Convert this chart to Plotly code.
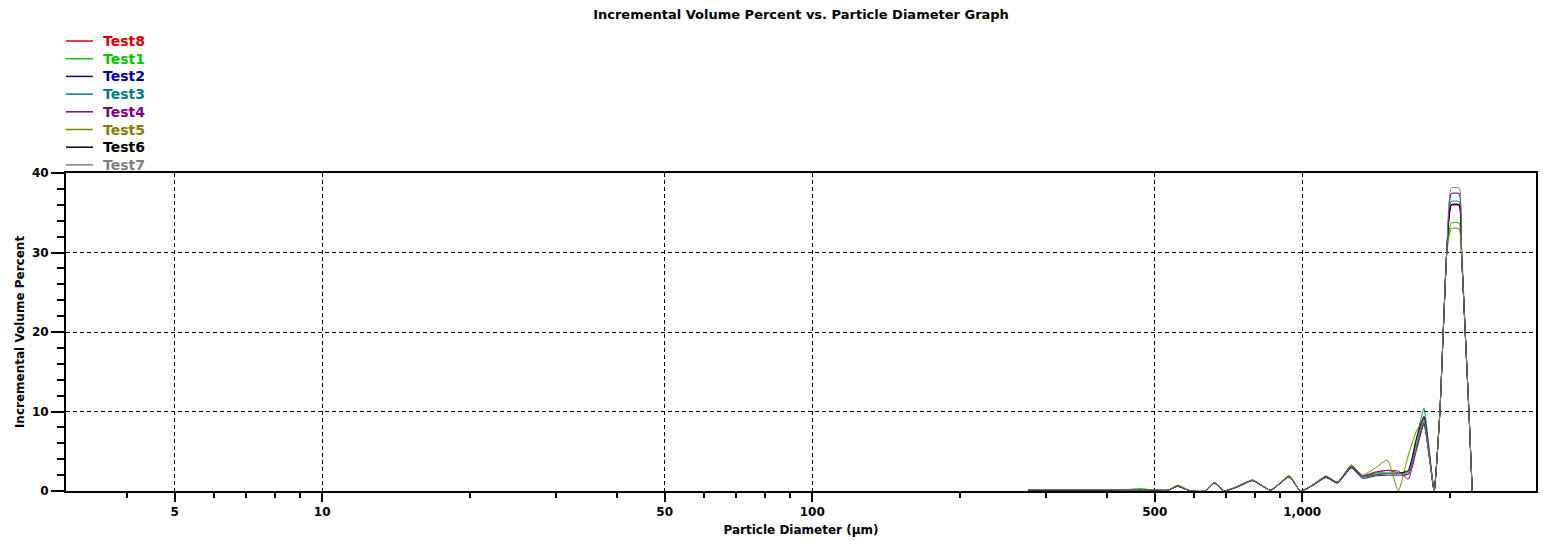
import plotly.graph_objects as go

# Particle diameters (µm) shared by all runs
diameter_um = [276, 303, 340, 383, 430, 469, 500, 532, 557, 592, 635, 662, 693, 738,
               792, 862, 941, 992, 1049, 1118, 1180, 1260, 1327, 1410, 1492, 1571,
               1646, 1709, 1772, 1817, 1859, 1910, 1940, 1972, 2014, 2091, 2114, 2151,
               2189, 2223]

# Incremental volume percent for each run
test8 = [0.1, 0.1, 0.1, 0.1, 0.15, 0.15, 0.1, 0.1, 0.6, 0.0, 0.0, 1.0, 0.0, 0.55, 1.35, 0.1,
         1.8, 0.0, 0.7, 1.7, 1.0, 3.0, 1.9, 2.3, 2.6, 2.3, 2.1, 5.5, 9.2, 4.6, 0.0, 10, 20, 30,
         35.9, 35.9, 30, 20, 10, 0]
test1 = [0.1, 0.1, 0.1, 0.1, 0.15, 0.3, 0.1, 0.1, 0.65, 0.0, 0.0, 1.05, 0.0, 0.55, 1.35, 0.1,
         1.85, 0.0, 0.75, 1.85, 1.1, 3.2, 1.8, 2.3, 2.3, 2.3, 2.5, 6.0, 9.0, 4.5, 0.0, 10, 20, 30,
         33.7, 33.7, 31, 20, 10, 0]
test2 = [0.1, 0.1, 0.1, 0.1, 0.15, 0.15, 0.1, 0.1, 0.6, 0.0, 0.0, 1.0, 0.0, 0.5, 1.3, 0.1,
         1.8, 0.0, 0.65, 1.7, 1.0, 2.9, 1.6, 1.9, 2.0, 2.0, 2.1, 5.3, 8.6, 4.3, 0.0, 10, 20, 30,
         37.4, 37.4, 30, 20, 10, 0]
test3 = [0.1, 0.1, 0.1, 0.1, 0.15, 0.15, 0.1, 0.1, 0.6, 0.0, 0.0, 1.05, 0.0, 0.55, 1.35, 0.1,
         1.85, 0.0, 0.7, 1.8, 1.1, 3.1, 1.8, 2.0, 2.2, 2.2, 2.4, 6.5, 10.4, 5.2, 0.0, 10, 20, 30,
         36.4, 36.4, 30, 20, 10, 0]
test4 = [0.1, 0.1, 0.1, 0.1, 0.15, 0.15, 0.1, 0.1, 0.6, 0.0, 0.0, 1.0, 0.0, 0.55, 1.3, 0.1,
         1.8, 0.0, 0.7, 1.8, 1.1, 3.0, 1.9, 2.4, 2.6, 2.5, 1.5, 5.0, 8.4, 4.2, 0.0, 10, 20, 30,
         36.0, 36.0, 30, 20, 10, 0]
test5 = [0.1, 0.1, 0.1, 0.15, 0.15, 0.15, 0.1, 0.1, 0.75, 0.0, 0.0, 1.1, 0.0, 0.6, 1.4, 0.1,
         1.95, 0.0, 0.75, 1.9, 1.1, 3.3, 2.0, 2.9, 3.9, 0.0, 4.5, 7.5, 9.0, 4.5, 0.0, 10, 20, 30,
         33.0, 33.0, 30, 20, 10, 0]
test6 = [0.1, 0.1, 0.1, 0.1, 0.15, 0.15, 0.1, 0.1, 0.6, 0.0, 0.0, 1.0, 0.0, 0.55, 1.35, 0.1,
         1.8, 0.0, 0.7, 1.8, 1.1, 3.1, 1.8, 2.1, 2.2, 2.2, 2.6, 6.5, 9.4, 4.7, 0.0, 10, 20, 30,
         36.0, 36.0, 30, 20, 10, 0]
test7 = [0.15, 0.15, 0.15, 0.15, 0.15, 0.15, 0.15, 0.1, 0.65, 0.0, 0.0, 1.05, 0.0, 0.55, 1.35,
         0.1, 1.85, 0.0, 0.7, 1.8, 1.1, 3.1, 1.8, 2.1, 2.2, 2.2, 2.2, 5.5, 9.0, 4.5, 0.0, 10, 20,
         30, 38.1, 38.1, 30, 20, 10, 0]

series_names = ["Test8", "Test1", "Test2", "Test3", "Test4", "Test5", "Test6", "Test7"]
series_values = [test8, test1, test2, test3, test4, test5, test6, test7]
series_colors = ["#E00000", "#00C800", "#0000B0", "#008080", "#800080", "#808000",
                 "#000000", "#808080"]

x_major_vals = [5, 10, 50, 100, 500, 1000]
x_major_text = ["5", "10", "50", "100", "500", "1,000"]
x_minor_vals = [4, 6, 7, 8, 9, 20, 30, 40, 60, 70, 80, 90, 200, 300, 400, 600, 700, 800,
                900, 2000]
y_major_vals = [0, 10, 20, 30, 40]

FONT = "DejaVu Sans"
W, H = 1543, 541
ML, MR, MT, MB = 66, 5, 173, 50
PW, PH = W - ML - MR, H - MT - MB

fig = go.Figure()
for name, vals, col in zip(series_names, series_values, series_colors):
    fig.add_trace(go.Scatter(
        x=diameter_um, y=vals, name=name, mode="lines",
        line=dict(color=col, width=1, shape="spline", smoothing=0.45),
        showlegend=False,
    ))


def px_x(px):
    return (px - ML) / PW


def px_y(py):
    return (H - MB - py) / PH


# Legend block in the top-left corner
shapes, annotations = [], []
row0, row_gap = 41, 17.7
for i, (name, col) in enumerate(zip(series_names, series_colors)):
    yy = px_y(row0 + row_gap * i)
    shapes.append(dict(type="line", xref="paper", yref="paper",
                       x0=px_x(66), x1=px_x(93), y0=yy, y1=yy,
                       line=dict(color=col, width=1.5)))
    annotations.append(dict(xref="paper", yref="paper", x=px_x(101), y=yy,
                            xanchor="left", yanchor="middle", showarrow=False,
                            text=name,
                            font=dict(family=FONT, size=14, color=col, weight="bold")))

axis_font = dict(family=FONT, size=12, color="black", weight="bold")

fig.update_layout(
    width=W, height=H,
    margin=dict(l=ML, r=MR, t=MT, b=MB),
    plot_bgcolor="white", paper_bgcolor="white",
    font=dict(family=FONT, color="black"),
    showlegend=False,
    shapes=shapes, annotations=annotations,
    title=dict(text="Incremental Volume Percent vs. Particle Diameter Graph",
               x=0.5, xref="paper", xanchor="center",
               y=1 - 14 / H, yanchor="middle",
               font=dict(family=FONT, size=13, color="black", weight="bold")),
    xaxis=dict(
        type="log", range=[0.47712, 3.47712],
        tickmode="array", tickvals=x_major_vals, ticktext=x_major_text,
        ticks="outside", ticklen=9, tickwidth=1.5, tickcolor="black",
        tickfont=axis_font,
        showline=True, linecolor="black", linewidth=2, mirror=True,
        showgrid=True, gridcolor="black", gridwidth=1, griddash="4px,3px",
        zeroline=False,
        minor=dict(tickmode="array", tickvals=x_minor_vals, ticks="outside",
                   ticklen=5, tickwidth=1.5, tickcolor="black", showgrid=False),
        title=dict(text="Particle Diameter (µm)", font=axis_font, standoff=7),
    ),
    yaxis=dict(
        range=[0, 40], tickmode="array", tickvals=y_major_vals,
        ticks="outside", ticklen=13, tickwidth=1.5, tickcolor="black",
        tickfont=axis_font,
        showline=True, linecolor="black", linewidth=2, mirror=True,
        showgrid=True, gridcolor="black", gridwidth=1, griddash="4px,3px",
        zeroline=False,
        minor=dict(dtick=2, ticks="outside", ticklen=7, tickwidth=1.5,
                   tickcolor="black", showgrid=False),
        title=dict(text="Incremental Volume Percent", font=axis_font, standoff=5),
    ),
)

fig.write_html("out.html")
